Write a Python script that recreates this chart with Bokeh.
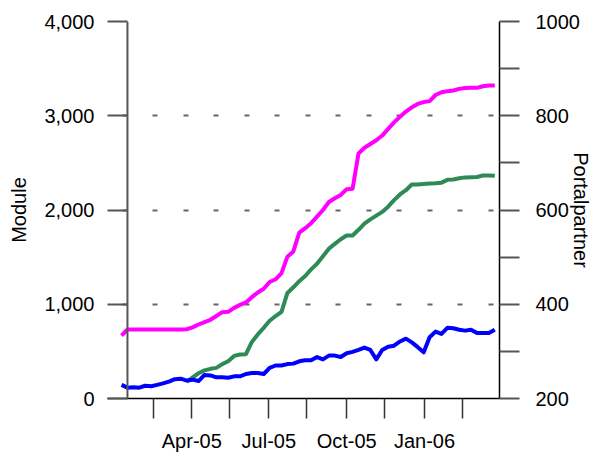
from datetime import datetime
import pandas as pd
from bokeh.plotting import figure
from bokeh.models import (Range1d, LinearAxis, FixedTicker, NumeralTickFormatter,
                          CustomJSTickFormatter, Span, ColumnDataSource)
from bokeh.embed import file_html
from bokeh.resources import INLINE

NaN = float("nan")

# weekly observation dates
dates = pd.date_range("2005-01-08", periods=64, freq="7D")

# Module series (left axis)
module_magenta = [668, 732, 732, 732, 732, 732, 732, 732, 732, 732, 732, 735,
                  755, 785, 810, 835, 875, 916, 920, 962, 993, 1019, 1075, 1125,
                  1164, 1236, 1265, 1330, 1505, 1560, 1760, 1807, 1860, 1930, 2000, 2085,
                  2125, 2160, 2220, 2225, 2600, 2660, 2700, 2740, 2790, 2860, 2930, 2990,
                  3045, 3090, 3125, 3145, 3155, 3220, 3250, 3260, 3268, 3285, 3295, 3296,
                  3296, 3313, 3321, 3321]
module_green = [NaN, NaN, NaN, NaN, NaN, NaN, NaN, NaN, NaN, NaN, NaN, 175,
                225, 268, 298, 315, 325, 365, 395, 452, 467, 470, 600, 680,
                750, 825, 875, 920, 1120, 1180, 1245, 1300, 1370, 1430, 1510, 1590,
                1640, 1690, 1729, 1730, 1790, 1855, 1900, 1940, 1980, 2035, 2105, 2165,
                2210, 2271, 2271, 2275, 2280, 2284, 2290, 2320, 2324, 2336, 2346, 2348,
                2350, 2366, 2366, 2363]
# Portalpartner series (right axis)
partners = [229, 223, 224, 223, 227, 226, 229, 232, 236, 241, 242, 238,
            240, 237, 250, 249, 245, 245, 244, 247, 247, 252, 254, 254,
            252, 265, 270, 270, 273, 274, 279, 281, 281, 288, 283, 291,
            291, 288, 296, 299, 303, 308, 303, 283, 303, 310, 312, 321,
            327, 319, 309, 298, 330, 342, 337, 350, 349, 346, 344, 346,
            339, 339, 339, 346]

left_ticks = [0, 1000, 2000, 3000, 4000]
right_ticks = [200, 400, 600, 800, 1000]
right_minor = [300, 500, 700, 900]
x_tick_dates = ["2005-02-15", "2005-04-01", "2005-05-15", "2005-07-01", "2005-08-15",
                "2005-10-01", "2005-11-15", "2006-01-01", "2006-02-15"]

FONT = "Liberation Sans"
FS = "20px"


def ms(s):
    return (pd.Timestamp(s) - pd.Timestamp("1970-01-01")).total_seconds() * 1000.0


src = ColumnDataSource(dict(d=dates, a=module_magenta, b=module_green, c=partners))

p = figure(width=594, height=455, x_axis_type="datetime",
           output_backend="svg", toolbar_location=None,
           x_range=Range1d(pd.Timestamp("2004-12-22 10:00"), pd.Timestamp("2006-03-30 14:00")),
           y_range=Range1d(0, 4000),
           min_border_left=107, min_border_right=95, min_border_top=21, min_border_bottom=57)
p.outline_line_color = None
p.background_fill_color = "white"
p.border_fill_color = "white"
p.extra_y_ranges = {"right": Range1d(200, 1000)}

# grid
p.xgrid.visible = False
p.ygrid.ticker = FixedTicker(ticks=[1000, 2000, 3000, 4000])
p.ygrid.grid_line_color = "#666666"
p.ygrid.grid_line_width = 2
p.ygrid.grid_line_dash = "5 25 5 26"
p.ygrid.grid_line_dash_offset = 46

# bottom axis
xa = p.xaxis[0]
xa.ticker = FixedTicker(ticks=[ms(s) for s in x_tick_dates])
xa.formatter = CustomJSTickFormatter(code="""
const d = new Date(tick);
if (d.getUTCDate() !== 1) return "";
const m = ["Jan","Feb","Mar","Apr","May","Jun","Jul","Aug","Sep","Oct","Nov","Dec"][d.getUTCMonth()];
return m + "-" + String(d.getUTCFullYear()).slice(2);
""")
xa.axis_line_color = "black"
xa.axis_line_width = 1.5
xa.major_tick_out = 20
xa.major_tick_in = 0
xa.major_tick_line_color = "#333333"
xa.major_tick_line_width = 1.5
xa.minor_tick_line_color = None
xa.major_label_standoff = 11
xa.major_label_text_font = FONT
xa.major_label_text_font_size = FS
xa.major_label_text_color = "black"

# left axis
ya = p.yaxis[0]
ya.ticker = FixedTicker(ticks=left_ticks)
ya.formatter = NumeralTickFormatter(format="0,0")
ya.axis_line_color = None
ya.major_tick_in = 20
ya.major_tick_out = 0
ya.major_tick_line_color = "#555555"
ya.major_tick_line_width = 2
ya.minor_tick_line_color = None
ya.major_label_standoff = 13
ya.major_label_text_font = FONT
ya.major_label_text_font_size = FS
ya.major_label_text_color = "black"
ya.axis_label = "Module"
ya.axis_label_text_font = FONT
ya.axis_label_text_font_size = FS
ya.axis_label_text_font_style = "normal"
ya.axis_label_text_color = "black"
ya.axis_label_standoff = 11

# vertical left axis line (axis sits one week into the data)
p.add_layout(Span(location=pd.Timestamp("2005-01-15"), dimension="height",
                  line_color="#555555", line_width=2))

# right axis
ra = LinearAxis(y_range_name="right",
                ticker=FixedTicker(ticks=right_ticks, minor_ticks=right_minor))
ra.axis_line_color = "black"
ra.axis_line_width = 1.5
ra.major_tick_out = 20
ra.major_tick_in = 0
ra.minor_tick_out = 20
ra.minor_tick_in = 0
ra.major_tick_line_color = "#555555"
ra.minor_tick_line_color = "#555555"
ra.major_tick_line_width = 2
ra.minor_tick_line_width = 2
ra.major_label_standoff = 16
ra.major_label_text_font = FONT
ra.major_label_text_font_size = FS
ra.major_label_text_color = "black"
ra.axis_label = "Portalpartner"
ra.axis_label_text_font = FONT
ra.axis_label_text_font_size = FS
ra.axis_label_text_font_style = "normal"
ra.axis_label_text_color = "black"
ra.axis_label_standoff = -13
p.add_layout(ra, "right")

# lines
p.line("d", "a", source=src, line_color="#FF00FF", line_width=4, line_join="round")
p.line("d", "b", source=src, line_color="#2E8B57", line_width=4, line_join="round")
p.line("d", "c", source=src, y_range_name="right", line_color="#0000FF", line_width=4,
       line_join="round")

open("out.html", "w").write(file_html(p, INLINE))
